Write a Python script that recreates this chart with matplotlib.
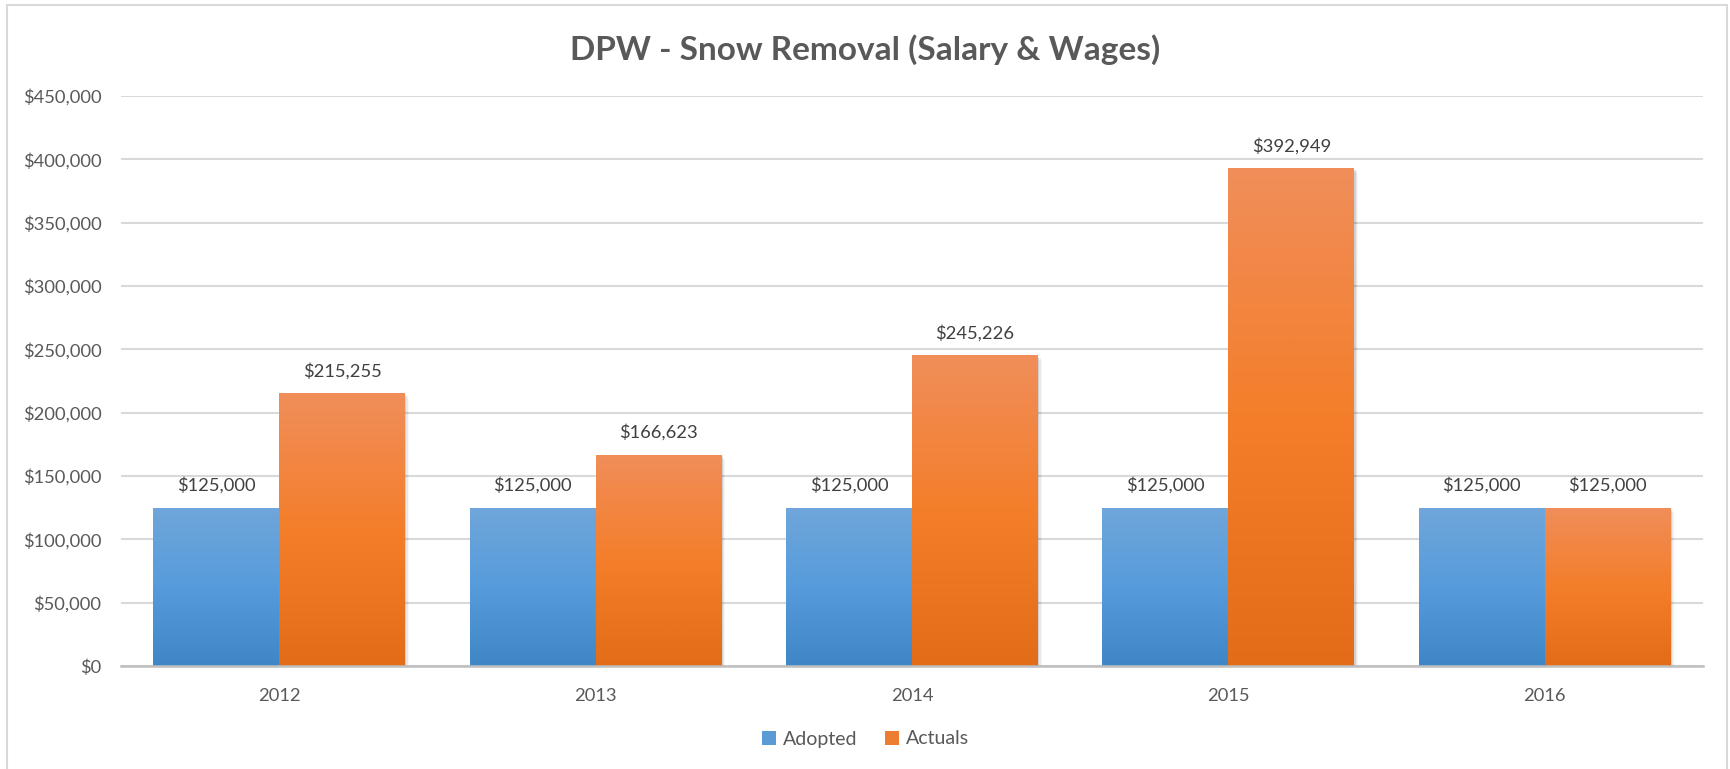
import numpy as np
import matplotlib
matplotlib.use("Agg")
import matplotlib.pyplot as plt
from matplotlib.patches import Rectangle
from matplotlib.colors import LinearSegmentedColormap
from matplotlib.ticker import FuncFormatter, MultipleLocator

years = ["2012", "2013", "2014", "2015", "2016"]
adopted = [125000, 125000, 125000, 125000, 125000]
actuals = [215255, 166623, 245226, 392949, 125000]
series_names = ["Adopted", "Actuals"]
title = "DPW - Snow Removal (Salary & Wages)"

FONT = ["Lato", "DejaVu Sans"]
plt.rcParams["font.family"] = FONT

W, H = 1731, 769
fig = plt.figure(figsize=(W / 100, H / 100), dpi=100)
fig.patch.set_facecolor("white")
ax = fig.add_axes([121 / W, 1 - 666 / H, (1703 - 121) / W, (666 - 96) / H])

# chart border
fig.add_artist(Rectangle((7 / W, -0.02), (1727 - 7) / W, 1 - 5 / H + 0.02,
                         transform=fig.transFigure, fill=False,
                         edgecolor="#D9D9D9", linewidth=1.5))

blue_cmap = LinearSegmentedColormap.from_list(
    "b", [(0, "#3F86C7"), (0.5, "#569CDC"), (1, "#70A6DA")])
orange_cmap = LinearSegmentedColormap.from_list(
    "o", [(0, "#E36C18"), (0.5, "#F47E2A"), (1, "#F08E5A")])

x = np.arange(len(years))
bw = 126 / 316.4
ax.set_xlim(-0.5, len(years) - 0.5)
ax.set_ylim(0, 450000)

grad = np.linspace(0, 1, 256).reshape(-1, 1)

def gradient_bars(xs, vals, cmap, label):
    bars = ax.bar(xs, vals, width=bw, color="none", edgecolor="none",
                  label=label, zorder=3)
    for b in bars:
        x0, y0 = b.get_x(), b.get_y()
        w, h = b.get_width(), b.get_height()
        # soft shadow
        for k, a in enumerate([0.10, 0.06, 0.03]):
            dx = 0.004 * (k + 1)
            ax.add_patch(Rectangle((x0 + dx, y0 - 1200 * (k + 1)), w, h,
                                   facecolor="black", alpha=a,
                                   edgecolor="none", zorder=2))
        im = ax.imshow(grad, cmap=cmap, origin="lower", aspect="auto",
                       extent=(x0, x0 + w, y0, y0 + h), zorder=3.5,
                       interpolation="bilinear")
        im.set_clip_path(b)
    return bars

b1 = gradient_bars(x - bw / 2, adopted, blue_cmap, series_names[0])
b2 = gradient_bars(x + bw / 2, actuals, orange_cmap, series_names[1])
ax.set_xlim(-0.5, len(years) - 0.5)
ax.set_ylim(0, 450000)

for bars, vals in ((b1, adopted), (b2, actuals)):
    for b, v in zip(bars, vals):
        ax.annotate(f"${v:,.0f}", (b.get_x() + b.get_width() / 2, v),
                    xytext=(0, 10), textcoords="offset points",
                    ha="center", va="bottom", fontsize=13.2,
                    color="#404040", zorder=5)

ax.yaxis.set_major_locator(MultipleLocator(50000))
ax.yaxis.set_major_formatter(FuncFormatter(lambda v, p: f"${v:,.0f}"))
ax.set_xticks(x)
ax.set_xticklabels(years)
ax.tick_params(axis="both", length=0, labelsize=13.2, colors="#595959")
ax.tick_params(axis="x", pad=16)
ax.tick_params(axis="y", pad=14)
ax.grid(axis="y", color="#D9D9D9", linewidth=1.5, zorder=0)
ax.set_axisbelow(True)
for s in ["top", "right", "left"]:
    ax.spines[s].set_visible(False)
ax.spines["bottom"].set_color("#BFBFBF")
ax.spines["bottom"].set_linewidth(1.8)
ax.spines["bottom"].set_zorder(4)

fig.text(0.5, 1 - 50 / H, title, ha="center", va="center",
         fontsize=24, fontweight="bold", color="#595959")

handles = [Rectangle((0, 0), 1, 1, facecolor="#5A9BD5"),
           Rectangle((0, 0), 1, 1, facecolor="#ED7D31")]
fig.legend(handles, series_names, loc="center", bbox_to_anchor=(0.5, 1 - 739 / H),
           ncol=2, frameon=False, fontsize=14, labelcolor="#595959",
           handlelength=0.75, handleheight=0.75, handletextpad=0.35,
           columnspacing=1.4)

fig.savefig("out.png", dpi=100, facecolor="white")
